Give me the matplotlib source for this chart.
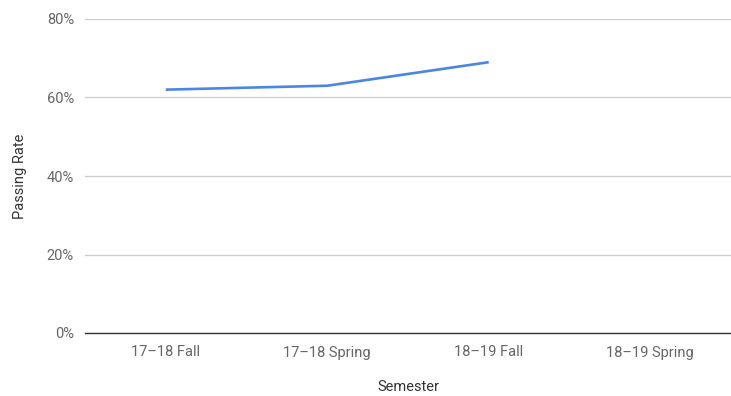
import matplotlib.pyplot as plt
from matplotlib.ticker import FuncFormatter

plt.rcParams['font.family'] = ['Roboto', 'DejaVu Sans']

semesters = ["17–18 Fall", "17–18 Spring", "18–19 Fall", "18–19 Spring"]
passing_rate = [62, 63, 69]
y_ticks = [0, 20, 40, 60, 80]

fig = plt.figure(figsize=(7.31, 3.96), dpi=100)
ax = fig.add_axes([85 / 731, 1 - 333 / 396, 646 / 731, 314 / 396])

ax.plot(range(len(passing_rate)), passing_rate, color='#4a86e8', linewidth=1.9,
        solid_capstyle='butt', zorder=3)

ax.set_xlim(-0.5, len(semesters) - 0.5)
ax.set_ylim(0, 80)
ax.set_xticks(range(len(semesters)))
ax.set_xticklabels(semesters)
ax.set_yticks(y_ticks)
ax.yaxis.set_major_formatter(FuncFormatter(lambda v, _: f'{v:.0f}%'))

ax.grid(axis='y', color='#cccccc', linewidth=0.9)
ax.set_axisbelow(True)
for side in ['top', 'right', 'left']:
    ax.spines[side].set_visible(False)
ax.spines['bottom'].set_color('#333333')
ax.spines['bottom'].set_linewidth(1.0)
ax.spines['bottom'].set_zorder(4)

ax.tick_params(axis='both', length=0, colors='#666666', labelsize=10.5)
ax.tick_params(axis='x', pad=9)
ax.tick_params(axis='y', pad=8)

ax.set_xlabel('Semester', fontsize=10.5, color='#333333', labelpad=15)
ax.set_ylabel('Passing Rate', fontsize=10.5, color='#333333', labelpad=14)

fig.savefig('out.png', dpi=100)
